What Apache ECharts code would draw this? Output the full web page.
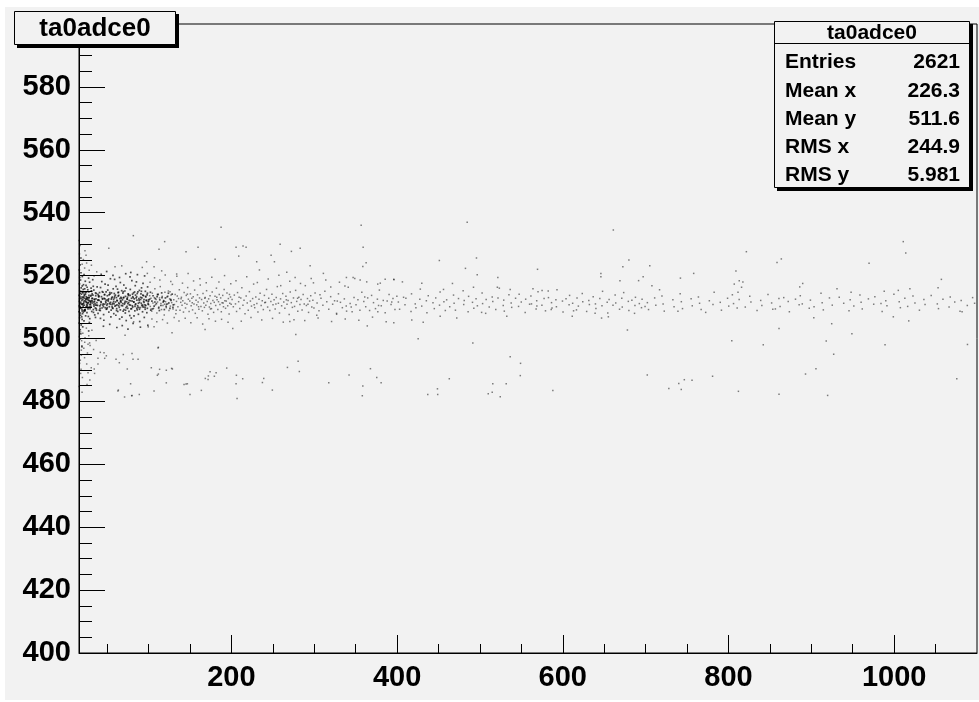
<!DOCTYPE html>
<html>
<head>
<meta charset="utf-8">
<script src="https://cdn.jsdelivr.net/npm/echarts@6/dist/echarts.min.js"></script>
<style>html,body{margin:0;padding:0;background:#fff;}#c{width:979px;height:702px;}</style>
</head>
<body>
<div id="c"></div>
<script>
// ---- axis ticks ----
const xMajorTicks = [200, 400, 600, 800, 1000];
const xMinorTicks = [50, 100, 150, 250, 300, 350, 450, 500, 550, 650, 700, 750, 850, 900, 950, 1050];
const yMajorTicks = [400, 420, 440, 460, 480, 500, 520, 540, 560, 580];
const yMinorTicks = [405,410,415,425,430,435,445,450,455,465,470,475,485,490,495,505,510,515,525,530,535,545,550,555,565,570,575,585,590,595];

// ---- stats box ----
const histName = "ta0adce0";
const statLabels = ["Entries", "Mean x", "Mean y", "RMS x", "RMS y"];
const statValues = ["2621", "226.3", "511.6", "244.9", "5.981"];

// ---- points read (estimated) from the picture ----
const edgePoints = [[16.4,500.6],[17.9,502.1],[19.2,499.3],[20.6,501.7],[21.8,496.9],[23.3,500.2],[24.9,503.3],[26.2,495.4],[27.8,500.9],[29.4,497.8],[31.6,502.6],[16.8,492.1],[18.5,490.2],[20.1,487.6],[22.7,493.9],[25.7,485.4],[16.2,484.7],[19.7,482.9],[29.1,486.8],[36.7,499.4],[16.6,526.9],[17.4,529.6],[19.8,523.6],[21.3,525.1],[22.8,522.4],[25.2,524.0],[28.3,521.7],[31.0,523.3],[16.1,531.2],[34.2,519.9],[37.4,521.2]];

const coreDense = [[16.8,512.6],[18.2,511.1],[19.6,513.2],[21.0,510.3],[22.5,512.0],[23.8,514.1],[25.1,511.4],[26.5,509.9],[27.9,512.9],[29.2,510.8],[30.6,513.7],[31.9,511.9],[33.3,509.2],[34.7,512.4],[36.0,514.5],[37.4,510.6],[38.7,512.2],[40.1,513.5],[41.4,509.6],[42.8,511.5],[44.2,512.7],[45.5,510.1],[46.9,514.0],[48.2,511.8],[49.6,509.4],[51.0,512.3],[52.3,513.9],[53.7,510.9],[55.0,512.5],[56.4,509.7],[57.8,511.7],[59.1,513.4],[60.5,510.5],[61.8,512.1],[63.2,514.6],[64.6,511.0],[65.9,509.1],[67.3,512.8],[68.6,510.4],[70.0,513.1],[71.4,511.3],[72.7,509.8],[74.1,512.6],[75.4,514.2],[76.8,510.7],[78.2,512.0],[79.5,509.5],[80.9,513.3],[82.2,511.6],[83.6,510.2],[85.0,512.9],[86.3,514.3],[87.7,511.2],[89.0,509.3],[90.4,512.4],[91.8,510.6],[93.1,513.8],[94.5,511.5],[95.8,509.9],[97.2,512.2],[98.6,514.4],[99.9,510.8],[101.3,512.5],[102.6,509.0],[104.0,511.9],[105.4,513.6],[106.7,510.3],[108.1,512.7],[109.4,511.1],[110.8,514.0],[112.2,509.7],[113.5,512.3],[114.9,510.5],[116.2,513.0],[117.6,511.6],[119.0,509.2],[120.3,512.9],[121.7,510.9],[123.0,513.4],[124.4,511.3],[125.8,509.6],[127.1,512.1],[128.5,514.1],[129.8,510.7],
[17.5,510.2],[20.3,514.8],[23.1,509.0],[25.8,513.0],[28.6,510.1],[31.3,515.0],[34.0,511.6],[36.8,509.5],[39.5,513.6],[42.2,510.8],[45.0,514.7],[47.7,509.8],[50.4,511.0],[53.1,514.6],[55.9,510.1],[58.6,512.9],[61.3,508.9],[64.0,513.7],[66.8,511.5],[69.5,514.9],[72.2,509.0],[74.9,511.1],[77.7,513.7],[80.4,510.4],[83.1,514.8],[85.8,509.6],[88.6,512.2],[91.3,515.0],[94.0,510.0],[96.7,513.2],[99.4,511.0],[102.2,514.7],[104.9,509.4],[107.6,511.6],[110.3,513.3],[113.0,508.9],[115.8,514.5],[118.5,511.9],[121.2,510.2],[123.9,514.4],[126.6,512.4],[129.4,509.9]];

const bandA = [[16.5,511.8],[17.2,513.4],[18.1,509.6],[16.9,515.2],[19.4,512.1],[20.3,507.9],[17.8,518.6],[21.6,511.2],[18.7,504.3],[22.4,513.9],[16.3,510.4],[23.1,509.1],[19.9,516.7],[24.6,512.6],[17.5,502.8],[20.8,514.5],[25.3,510.7],[18.4,520.9],[26.1,512.9],[21.2,508.4],[16.8,506.6],[27.4,511.5],[22.9,515.8],[19.1,510.9],[28.2,513.1],[17.3,523.4],[24.0,507.2],[29.5,511.9],[20.6,512.4],[25.8,516.3],[16.1,513.7],[30.4,510.2],[22.0,505.6],[18.9,514.1],[31.7,512.7],[26.9,509.4],[17.0,499.8],[23.6,518.2],[32.3,511.3],[19.7,508.8],[27.9,514.8],[16.6,517.4],[33.8,510.8],[21.9,511.6],[29.0,506.3],[24.8,513.3],[18.2,501.5],[34.5,512.5],[20.0,519.7],[30.9,515.1],[26.4,511.0],[17.6,508.1],[35.7,509.7],[22.7,512.8],[28.8,517.9],[19.3,506.9],[36.2,513.6],[25.1,510.1],[16.4,521.8],[31.4,508.6],[23.4,514.6],[37.6,511.4],[20.5,503.7],[27.1,512.2],[18.6,516.1],[32.8,513.8],[24.3,509.9],[38.4,510.5],[21.4,517.1],[29.7,511.7],[17.1,512.9],[35.0,507.5],[26.6,515.5],[22.3,510.6],[39.3,512.3],[19.6,509.3],[30.1,513.5],[16.2,504.9],[33.2,516.6],[25.6,508.2],[18.0,511.5],[36.8,514.3],[23.9,511.9],[28.5,505.1],[20.9,513.0],[37.1,509.0],[27.6,519.2],[17.9,507.4],[31.2,512.0],[24.5,516.9],[34.1,510.3],[21.7,508.9],[39.8,513.2],[26.2,512.5],[19.0,514.9],[29.3,509.5],[16.7,510.0],[32.6,518.7],[22.6,513.6],[35.4,511.1],[18.3,525.6],[27.3,507.0],[38.9,514.0],[24.2,512.4],[20.2,510.8],[30.6,516.0],[17.4,514.4],[33.5,508.3],[25.9,510.4],[36.5,512.6],[21.1,515.6],[28.0,513.7],[19.5,497.6],[34.8,511.8],[23.3,509.2],[31.9,514.2],[16.0,508.5],[26.8,511.3],[37.9,516.4],[20.7,511.0],[29.9,510.9],[22.1,520.3],[18.8,512.7],[35.9,506.7],[25.0,514.7],[32.1,512.8],[17.7,509.8],[39.0,508.0],[24.7,511.6],[27.7,502.4],[21.5,513.2],[30.3,511.4],[19.8,506.1],[33.9,515.4],[23.0,508.7],[36.0,510.6],[16.9,519.4],[28.4,512.1]];

const bandB = [[40.3,512.1],[41.2,510.4],[40.8,514.6],[42.5,511.7],[41.7,508.9],[43.1,513.3],[42.0,516.2],[44.6,512.5],[43.8,509.7],[45.2,511.0],[44.1,514.9],[46.3,512.8],[45.7,507.6],[47.0,510.9],[46.8,513.9],[48.4,511.4],[47.5,517.3],[49.1,512.2],[48.9,509.3],[50.2,513.6],[49.6,510.6],[51.3,511.9],[50.7,515.4],[52.0,508.4],[51.8,512.6],[53.4,514.1],[52.6,510.1],[54.1,511.5],[53.9,519.0],[55.5,512.9],[54.8,509.0],[56.2,513.2],[55.9,510.8],[57.3,515.8],[56.7,511.2],[58.0,507.9],[57.8,512.4],[59.4,510.3],[58.6,514.3],[60.1,511.6],[59.9,513.8],[61.5,509.5],[60.7,516.6],[62.2,512.0],[61.9,510.7],[63.3,513.5],[62.8,508.6],[64.0,511.3],[63.7,514.7],[65.4,512.7],[64.6,509.9],[66.1,511.8],[65.9,517.8],[67.2,510.5],[66.6,513.1],[68.5,512.3],[67.8,506.8],[69.0,514.4],[68.9,511.1],[70.3,509.2],[69.7,512.9],[71.4,515.1],[70.8,510.9],[72.1,513.4],[71.9,508.1],[73.6,511.7],[72.7,516.0],[74.2,512.5],[73.9,510.2],[75.5,514.0],[74.8,509.6],[76.0,511.4],[75.8,513.7],[77.3,507.3],[76.6,512.1],[78.1,510.6],[77.9,515.6],[79.4,512.8],[78.7,509.4],[80.2,511.9],[79.8,518.4],[81.5,513.0],[80.9,510.0],[82.1,511.6],[81.8,514.5],[83.4,508.8],[82.7,512.6],[84.0,510.8],[83.9,516.8],[85.6,513.3],[84.5,511.0],[86.2,509.1],[85.9,512.2],[87.1,514.8],[86.8,510.4],[88.3,512.7],[87.7,507.7],[89.0,511.5],[88.9,515.3],[90.4,513.1],[89.6,509.8],[91.2,511.2],[90.8,514.2],[92.5,510.1],[91.9,512.9],[93.3,517.5],[92.7,508.5],[94.0,511.8],[93.8,513.6],[95.6,510.7],[94.5,512.4],[96.1,515.0],[95.9,509.3],[97.4,512.0],[96.7,510.5],[98.2,513.9],[97.9,508.2],[99.5,511.7],[98.8,516.4],[99.9,512.3],
[40.6,509.0],[41.9,506.4],[43.5,518.1],[44.9,510.6],[46.0,505.8],[47.3,512.6],[48.7,514.8],[50.0,509.8],[51.1,517.0],[52.9,511.2],[54.5,506.9],[55.2,514.5],[56.9,509.6],[58.3,511.0],[59.0,518.8],[60.5,507.4],[61.2,513.0],[62.5,515.7],[63.9,510.4],[65.0,506.2],[66.4,512.0],[67.5,515.2],[69.3,508.7],[70.1,517.0],[71.7,511.8],[73.0,505.7],[74.5,513.1],[76.3,508.6],[77.6,519.6],[79.1,506.5],[80.6,514.1],[82.4,507.2],[84.2,513.8],[85.3,518.0],[87.4,509.9],[89.3,505.4],[91.5,516.1],[93.0,510.6],[94.8,506.7],[96.4,513.4],[98.5,509.6],[42.8,520.4],[45.5,503.9],[49.4,521.3],[53.1,504.5],[57.0,520.1],[61.7,503.5],[64.9,519.4],[68.2,504.1],[72.4,520.6],[75.1,503.0],[78.5,521.0],[81.3,504.8],[86.5,520.3],[90.1,503.6],[95.2,519.9],[99.1,504.2]];

const bandC = [[100.4,511.9],[101.3,513.6],[102.1,510.2],[102.9,512.8],[103.8,508.7],[104.5,514.4],[105.2,511.3],[106.0,509.6],[106.9,513.0],[107.6,515.8],[108.3,510.7],[109.1,512.4],[110.0,508.1],[110.8,511.6],[111.7,514.1],[112.4,510.0],[113.2,512.9],[114.1,516.5],[114.9,511.1],[115.6,509.2],[116.5,513.4],[117.3,510.5],[118.0,512.1],[118.9,507.5],[119.7,514.7],[120.5,511.7],[121.4,509.8],[122.2,513.2],[123.0,511.0],[123.9,515.1],[124.6,508.9],[125.4,512.6],[126.3,510.3],[127.1,513.8],[127.9,511.4],[128.8,517.2],[129.5,509.4],[130.4,512.3],[131.2,510.8],[132.1,514.0],[132.9,507.9],[133.7,511.8],[134.6,513.5],[135.4,510.1],[136.2,512.7],[137.1,515.5],[137.9,509.0],[138.8,511.5],[139.6,513.1],[140.4,510.6],[141.3,512.0],[142.1,508.4],[142.9,514.6],[143.8,511.2],[144.6,509.7],[145.5,513.7],[146.3,510.9],[147.2,516.2],[148.0,512.5],[148.9,508.6],[149.7,511.9],[150.5,514.2],[151.4,510.4],[152.2,512.8],[153.1,509.1],[153.9,513.3],[154.8,511.0],[155.6,515.4],[156.4,508.0],[157.3,512.2],[158.1,510.7],[159.0,513.9],[159.8,511.6],[160.7,509.3],[161.5,512.9],[162.4,517.0],[163.2,510.2],[164.0,512.4],[164.9,508.8],[165.7,514.3],[166.6,511.3],[167.4,509.9],[168.3,513.0],[169.1,510.6],[170.0,515.2],[170.8,511.8],[171.7,507.7],[172.5,512.6],[173.4,510.0],[174.2,513.6],[175.1,511.1],[175.9,509.5],[176.8,514.8],[177.6,512.1],[178.5,508.3],[179.3,511.5],[180.2,513.4],[181.0,510.5],[181.9,516.0],[182.7,512.3],[183.6,509.2],[184.4,511.7],[185.3,514.0],[186.1,510.8],[187.0,512.9],[187.8,508.5],[188.7,511.4],[189.5,513.7],[190.4,510.1],[191.2,515.6],[192.1,512.0],[192.9,509.6],[193.8,511.9],[194.6,514.5],[195.5,510.4],[196.3,512.7],[197.2,507.8],[198.0,511.2],[198.9,513.2],[199.7,510.9],
[101.8,517.9],[104.0,506.2],[107.2,519.3],[109.9,505.3],[113.6,518.6],[116.9,506.0],[120.1,520.2],[122.7,504.9],[126.8,518.1],[130.9,506.7],[134.1,519.8],[136.7,505.6],[140.9,517.6],[144.2,506.4],[147.7,520.7],[151.0,505.0],[154.3,518.3],[158.6,506.6],[161.9,519.0],[165.3,504.6],[169.6,517.7],[172.9,506.3],[176.3,519.5],[180.7,505.5],[184.9,518.0],[188.1,506.1],[191.7,520.0],[195.9,505.2],[199.2,517.4],[103.1,509.4],[111.3,513.9],[119.2,510.9],[125.9,514.9],[133.3,509.0],[139.2,512.6],[146.8,514.1],[152.7,511.4],[160.3,510.1],[167.9,512.8],[174.7,509.4],[182.3,513.1],[190.0,511.3],[197.6,514.0]];

const bandD = [[200.8,512.4],[202.3,510.1],[203.5,513.8],[204.9,511.0],[206.2,508.6],[207.4,514.6],[208.7,511.7],[210.1,509.5],[211.3,512.9],[212.6,516.1],[213.9,510.6],[215.2,512.2],[216.4,507.9],[217.8,513.5],[219.1,511.3],[220.3,509.0],[221.7,514.9],[222.9,511.9],[224.2,510.3],[225.6,512.7],[226.8,517.3],[228.1,509.8],[229.4,513.2],[230.7,511.1],[232.0,508.4],[233.3,512.5],[234.6,514.4],[235.9,510.5],[237.2,512.0],[238.5,509.2],[239.8,513.7],[241.1,511.5],[242.4,515.6],[243.7,510.0],[245.0,512.8],[246.3,508.9],[247.6,511.8],[248.9,514.1],[250.2,510.7],[251.5,512.3],[252.8,509.4],[254.1,513.0],[255.4,516.5],[256.7,511.2],[258.0,508.1],[259.3,512.6],[260.6,510.4],[261.9,514.3],[263.2,511.6],[264.5,509.6],[265.8,513.4],[267.1,510.9],[268.4,512.1],[269.7,507.6],[271.0,514.8],[272.3,511.4],[273.6,509.9],[274.9,512.9],[276.2,510.2],[277.5,515.3],[278.8,511.8],[280.1,508.7],[281.4,513.1],[282.7,510.8],[284.0,512.4],[285.3,509.1],[286.6,514.0],[287.9,511.0],[289.2,516.8],[290.5,510.5],[291.8,512.7],[293.1,508.3],[294.4,511.9],[295.7,513.6],[297.0,510.0],[298.3,512.2],[299.6,509.7],[301.0,514.5],[303.4,511.3],[305.7,508.8],[308.1,512.8],[310.4,510.6],[312.8,515.0],[315.1,511.7],[317.5,509.3],[319.8,513.3],[322.2,510.9],[324.5,512.0],[326.9,508.0],[329.2,514.2],[331.6,511.5],[333.9,509.8],[336.3,512.6],[338.6,510.3],[341.0,516.3],[343.3,511.1],[345.7,508.5],[348.0,513.0],[350.4,510.7],[352.7,512.3],[355.1,509.0],[357.4,514.7],[359.8,511.8],[362.1,510.1],[364.5,512.9],[366.8,508.9],[369.2,513.7],[371.5,511.4],[373.9,509.5],[376.2,512.5],[378.6,515.4],[380.9,510.4],[383.3,512.1],[385.6,508.2],[388.0,511.9],[390.3,514.0],[392.7,510.8],[395.0,512.7],[397.4,509.2],[399.7,513.4],
[205.5,518.4],[211.9,505.5],[218.5,519.6],[223.6,506.7],[231.3,517.8],[236.6,505.9],[244.4,518.9],[249.6,506.4],[257.3,520.1],[262.6,505.2],[270.4,518.2],[275.5,506.0],[283.4,517.5],[288.5,505.7],[296.3,519.1],[304.6,506.5],[313.9,518.6],[320.9,505.4],[330.4,517.9],[337.4,506.2],[346.9,519.4],[353.8,505.8],[363.3,518.0],[370.3,506.8],[379.7,517.6],[386.8,505.3],[396.2,518.7],[209.3,513.1],[227.4,510.7],[240.2,511.4],[253.7,511.0],[266.3,512.3],[279.9,512.8],[292.4,510.9],[306.9,513.9],[327.8,511.9],[344.6,510.0],[360.9,513.2],[377.6,510.5],[393.5,511.6]];

const bandE = [[401.5,511.6],[403.0,509.3],[407.8,513.1],[409.5,510.7],[410.6,512.8],[416.8,508.6],[417.4,514.2],[421.9,511.0],[422.7,509.8],[427.4,512.5],[428.0,515.7],[429.7,510.3],[435.3,512.0],[436.0,508.2],[437.6,513.6],[443.3,511.4],[444.9,509.5],[446.6,512.9],[451.2,510.6],[451.9,514.8],[456.5,511.7],[458.2,508.9],[459.8,512.3],[463.5,510.1],[468.1,513.8],[468.8,511.2],[470.4,509.0],[474.1,512.7],[479.7,515.2],[480.4,510.8],[481.0,512.1],[485.7,508.5],[486.3,513.4],[491.0,511.5],[492.6,509.6],[495.3,512.6],[496.9,510.4],[502.6,514.5],[503.2,511.1],[506.9,508.0],[507.5,512.4],[511.2,510.0],[514.8,513.2],[515.5,511.8],[519.1,509.2],[521.8,512.9],[523.4,516.0],[528.1,510.5],[528.7,512.2],[529.4,508.7],[535.0,513.9],[537.7,511.3],[538.3,509.9],[543.0,512.8],[546.6,510.2],[547.3,514.1],[549.9,511.6],[554.6,508.3],[555.2,512.5],[559.9,510.9],[561.5,513.5],[562.2,511.0],[567.8,509.4],[568.5,512.0],[570.1,514.9],[574.8,510.6],[577.4,512.7],[579.1,508.8],[582.7,513.0],[586.4,511.4],[587.0,509.7],[591.7,512.3],[592.3,510.1],[593.0,515.5],[599.6,511.9],[600.3,508.4],[603.9,512.6],[607.6,510.7],[608.2,513.7],[611.9,511.2],[616.5,509.1],[617.2,512.9],[618.8,510.3],[623.5,514.3],[624.1,511.7],[628.8,508.6],[631.4,512.1],[632.1,510.8],[636.7,513.3],[639.4,511.0],[640.0,509.5],[644.7,512.7],[647.3,510.4],[648.0,515.0],[653.6,511.5],[654.3,508.1],[655.9,512.4],[660.6,510.6],[663.2,513.8],[663.9,511.3],[668.5,509.3],[671.2,512.8],[671.8,510.0],[673.5,514.6],[679.1,511.8],[679.8,508.9],[683.4,512.2],[687.1,510.5],[687.7,513.1],[692.4,511.1],[695.0,509.8],[695.7,512.5],[699.3,510.2]];

const bandF = [[702.1,511.4],[703.5,509.2],[710.9,512.9],[712.3,510.6],[719.7,513.5],[721.1,511.0],[722.5,508.7],[732.9,512.3],[734.3,510.1],[741.7,514.2],[743.1,511.7],[744.5,509.5],[754.9,512.6],[756.3,510.4],[763.7,513.2],[765.1,511.2],[772.5,508.3],[776.9,512.0],[781.3,510.8],[782.7,514.7],[790.1,511.5],[791.5,509.0],[798.9,512.8],[800.3,510.3],[804.7,513.9],[806.1,511.1],[810.5,509.7],[812.9,512.4],[820.3,510.0],[825.7,513.4],[827.1,511.6],[834.5,508.9],[838.9,512.1],[840.3,510.5],[847.7,514.0],[852.1,511.3],[853.5,509.3],[860.9,512.7],[862.3,510.2],[866.7,513.0],[872.1,511.8],[873.5,508.5],[880.9,512.5],[885.3,510.7],[886.7,513.6],[889.1,511.0],[897.5,509.6],[898.9,512.2],[903.3,510.1],[911.7,514.4],[913.1,511.4],[914.5,509.1],[921.9,512.9],[925.3,510.6],[933.7,513.1],[939.1,511.2],[945.5,508.8],[946.9,512.3],[951.3,510.3],[958.7,513.8],[960.1,511.5],[961.5,509.4],[968.9,512.6],[975.3,510.9],[976.7,513.3],[984.1,511.1],[985.5,508.6],[989.9,512.0],[991.3,510.4],[999.7,514.1],[1006.1,511.7],[1007.5,509.8],[1012.9,512.8],[1016.3,510.2],[1022.7,513.5],[1025.1,511.3],[1030.5,509.0],[1035.9,512.4],[1037.3,510.8],[1044.7,513.7],[1052.1,511.0],[1053.5,509.5],[1058.9,512.5],[1066.3,510.0],[1067.7,513.2],[1073.1,511.6],[1079.5,508.7],[1080.9,512.1],[1088.3,510.5],[1094.7,513.0],[1097.1,511.2]];

const upperOutliers = [[81.6,532.7],[187.5,535.4],[356.6,536],[484.6,537],[52,528.7],[112.6,528.4],[159.7,529],[205.6,529],[214,529.4],[217.7,529],[258.8,530],[283,528.7],[359,529],[1011,530.8],[1014,527.2],[858.6,524.2],[863.8,525.3],[969.7,523.9],[1057,518.8],[889.6,517.5],[1053,516.1],[931,515.8],[948,514.7],[988,515],[1005,515.3],[1019,515.8],[886,516.4],[661,534.5],[821.6,527.6],[569.5,522],[679.8,525],[672.5,522.8],[705,523.1],[646,520.7],[646,519.6],[809,521.5],[758,520.7],[669,518.4],[697,519.6],[691.5,518.4],[742,519.2],[813,518.4],[817.4,518],[807,517.3],[815.8,516.3],[707.6,516.8],[716.8,515.5],[811.5,514.7],[564,515.8],[575,515.3],[582.4,515.1],[272.4,527.7],[295,523.1],[266.8,521.1],[358.6,522.9],[362.6,524.1],[311,520.7],[451,524.8],[495.8,525.6],[482.5,522.3],[496.7,520.3],[338.8,519.4],[348.9,519.1],[355.4,518.6],[385.6,518.8],[396,518.8],[406.4,518],[521.6,519.4],[429.8,517.6],[466.8,517.5],[521,516.3],[536.5,515.6],[299,517.7],[276.9,519.4],[259.5,516.8],[492.2,516.3],[456,515.6],[376.6,517.3],[319.9,516.4],[337,516.7],[119.4,530.8],[247.9,526.5],[145.2,527.6],[180.3,525.2],[208.8,526.2],[230.5,524.4],[251.9,524.4],[23.2,527.9],[24.5,526.5],[67.6,523.1],[59.5,522.8],[97.6,524.4],[92.4,522.6],[106.6,522.8],[115.8,521.5],[98.5,520.7],[133.9,520.5],[233.8,521.8]];

const lowerOutliers = [[861,503.2],[918,499.2],[949,501.5],[927,495],[905.6,490.4],[893,488.7],[861,482.3],[919.7,481.9],[989,498],[1088.5,498.1],[1075.6,487.2],[903,506.6],[924.6,504.7],[999,506.9],[1017.6,505.6],[1082,508.5],[678,502.7],[804,499.3],[842,498],[702,488.4],[780.8,488],[746.7,486.9],[756,486.7],[740,485.7],[728,484.1],[743,483.8],[812,483.2],[588,483.5],[611.4,507.1],[646.8,506.5],[655,506.9],[639,508],[686.6,508],[613,508.8],[586,509.2],[739,508.7],[767,509.2],[856.6,509.4],[568.7,510.3],[364,504],[270.5,505.4],[277.7,501.3],[396,505],[425.4,499.9],[431.5,505.2],[491.4,498.6],[536.5,494.2],[549,492.1],[548.7,488.2],[280.5,492.8],[267.6,490.8],[282,489.5],[342,488.4],[367.8,490.4],[375.4,487.6],[380.7,485.9],[317.5,485.9],[358.6,484.9],[358,481.8],[448.7,484],[437,482.2],[449,482.2],[463,487.2],[515.5,485.6],[531.7,485.6],[514.8,482.9],[510,482.4],[524.5,481.5],[452,507.1],[472,506.5],[417.7,505.9],[532.4,507.1],[502,508.3],[303,507.4],[327,507.7],[339,508.7],[376.7,508.5],[111.4,497],[69.5,494.9],[80,495.2],[49,494.5],[41.7,495.6],[81.2,493.4],[87.3,493.4],[64.7,492.3],[74.3,490.3],[103.3,490.7],[113.3,490.2],[121.4,489.9],[128.7,490.3],[110.6,488.3],[121.4,485.9],[78.3,485.6],[63,483.3],[71,481.4],[80,481.9],[88.8,482.2],[106.6,483.3],[142.8,485.4],[146.8,485.6],[150,482.2],[163.7,483.5],[168.5,487.3],[171.8,487],[179.4,488],[174.2,489.4],[194.3,490.6],[206,488.3],[213.6,487.2],[205.6,485.6],[206.8,480.9],[237.4,486],[239,487.3],[249.4,483.6],[17.6,493.1],[26.9,489.1],[34.8,488.9],[25.3,491.9],[38.9,491.9],[18,488.9],[34.4,490.3],[30.8,490.7],[19.6,497.2],[26.9,498.2],[22.9,498.8],[18.8,496.3],[33.6,496.5],[28.8,498.6],[47,493.7],[38.9,493.7],[18.8,494.7],[71.6,501],[99.6,503.7],[106.6,503.7],[128.3,501.8],[168.2,502.9],[201.6,503.2],[82,505.3],[111.8,497.2],[46.2,495.5],[60.7,493.4],[127.8,490.5],[111.8,488.7],[172.2,488.1],[181.5,489.1],[145.2,485.5],[63.5,483.6],[79.6,481.8]];

// ---- chart ----
const densePoints = [].concat(coreDense, bandA, bandB);
const sparsePoints = [].concat(edgePoints, bandC, bandD, bandE, bandF, upperOutliers, lowerOutliers);

const FONT = "'Liberation Sans', Arial, Helvetica, sans-serif";
const tickLabel = {color: '#000', fontFamily: FONT, fontWeight: 'bold', fontSize: 29, formatter: function (v) { return String(v); }};

const chart = echarts.init(document.getElementById('c'), null, {renderer: 'canvas'});

const statGraphics = [];
statLabels.forEach(function (lab, i) {
  const cy = 62.5 + i * 28.3;
  statGraphics.push({type: 'text', z: 102, silent: true, style: {x: 785, y: cy, text: lab, fill: '#000', font: 'bold 21px ' + FONT, textAlign: 'left', textVerticalAlign: 'middle'}});
  statGraphics.push({type: 'text', z: 102, silent: true, style: {x: 960, y: cy, text: statValues[i], fill: '#000', font: 'bold 21px ' + FONT, textAlign: 'right', textVerticalAlign: 'middle'}});
});

const option = {
  animation: false,
  backgroundColor: '#ffffff',
  grid: {left: 79, top: 24, width: 898, height: 629, show: true, borderColor: '#000', borderWidth: 1, backgroundColor: 'transparent', containLabel: false},
  xAxis: [
    {type: 'value', min: 16, max: 1100, position: 'bottom',
     axisLine: {show: true, onZero: false, lineStyle: {color: '#000', width: 1}},
     splitLine: {show: false},
     axisTick: {show: true, inside: true, length: 18, customValues: xMajorTicks, lineStyle: {color: '#000', width: 1}},
     axisLabel: Object.assign({show: true, customValues: xMajorTicks, margin: 10}, tickLabel)},
    {type: 'value', min: 16, max: 1100, position: 'bottom',
     axisLine: {show: false, onZero: false},
     splitLine: {show: false},
     axisTick: {show: true, inside: true, length: 9, customValues: xMinorTicks, lineStyle: {color: '#000', width: 1}},
     axisLabel: {show: false}}
  ],
  yAxis: [
    {type: 'value', min: 400, max: 600, position: 'left',
     axisLine: {show: true, onZero: false, lineStyle: {color: '#000', width: 1}},
     splitLine: {show: false},
     axisTick: {show: true, inside: true, length: 26, customValues: yMajorTicks, lineStyle: {color: '#000', width: 1}},
     axisLabel: Object.assign({show: true, customValues: yMajorTicks, margin: 8}, tickLabel)},
    {type: 'value', min: 400, max: 600, position: 'left', offset: 0,
     axisLine: {show: false, onZero: false},
     splitLine: {show: false},
     axisTick: {show: true, inside: true, length: 13, customValues: yMinorTicks, lineStyle: {color: '#000', width: 1}},
     axisLabel: {show: false}}
  ],
  series: [
    {type: 'scatter', name: 'dense', xAxisIndex: 0, yAxisIndex: 0, silent: true,
     symbol: 'rect', symbolSize: 1.7,
     itemStyle: {color: 'rgba(0,0,0,0.85)'},
     data: densePoints},
    {type: 'scatter', name: 'sparse', xAxisIndex: 0, yAxisIndex: 0, silent: true,
     symbol: 'rect', symbolSize: 1.5,
     itemStyle: {color: 'rgba(0,0,0,0.62)'},
     data: sparsePoints}
  ],
  graphic: [
    {type: 'rect', z: -100, silent: true, shape: {x: 5, y: 7, width: 974, height: 693}, style: {fill: '#f2f2f2'}},
    // title box
    {type: 'rect', z: 100, silent: true, shape: {x: 17, y: 14, width: 162, height: 34}, style: {fill: '#000'}},
    {type: 'rect', z: 101, silent: true, shape: {x: 14.5, y: 11.5, width: 161, height: 33}, style: {fill: '#f2f2f2', stroke: '#000', lineWidth: 1}},
    {type: 'text', z: 102, silent: true, style: {x: 95, y: 28.5, text: histName, fill: '#000', font: 'bold 26px ' + FONT, textAlign: 'center', textVerticalAlign: 'middle'}},
    // stats box
    {type: 'rect', z: 100, silent: true, shape: {x: 777, y: 24, width: 196, height: 167}, style: {fill: '#000'}},
    {type: 'rect', z: 101, silent: true, shape: {x: 774.5, y: 21.5, width: 195, height: 166}, style: {fill: '#f2f2f2', stroke: '#000', lineWidth: 1}},
    {type: 'line', z: 102, silent: true, shape: {x1: 774.5, y1: 43.5, x2: 969.5, y2: 43.5}, style: {stroke: '#000', lineWidth: 1}},
    {type: 'text', z: 102, silent: true, style: {x: 872, y: 33, text: histName, fill: '#000', font: 'bold 21px ' + FONT, textAlign: 'center', textVerticalAlign: 'middle'}}
  ].concat(statGraphics)
};

chart.setOption(option);
</script>
</body>
</html>
